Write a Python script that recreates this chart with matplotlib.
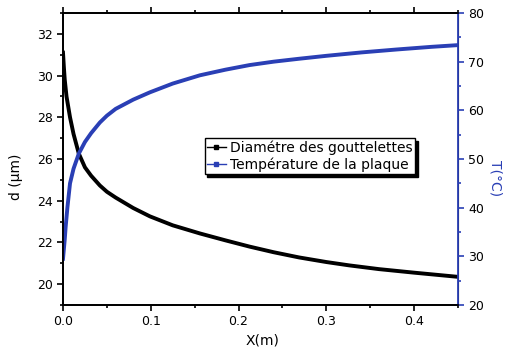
import matplotlib.pyplot as plt
from matplotlib.ticker import MultipleLocator

# diameter of droplets (left axis)
x_d = [0.0, 0.001, 0.002, 0.004, 0.006, 0.008, 0.012, 0.018, 0.025, 0.032, 0.042,
       0.05, 0.06, 0.08, 0.099, 0.125, 0.156, 0.185, 0.2125, 0.24, 0.269, 0.3,
       0.326, 0.36, 0.4, 0.45]
d = [31.1, 30.4, 29.8, 29.0, 28.5, 28.0, 27.2, 26.26, 25.6, 25.2, 24.73,
     24.43, 24.15, 23.65, 23.25, 22.82, 22.43, 22.1, 21.8, 21.53, 21.28, 21.06,
     20.9, 20.72, 20.55, 20.35]

# plate temperature (right axis)
x_t = [0.0, 0.001, 0.002, 0.003, 0.005, 0.008, 0.012, 0.018, 0.025, 0.032, 0.042,
       0.05, 0.06, 0.08, 0.099, 0.125, 0.156, 0.185, 0.2125, 0.24, 0.269, 0.3,
       0.34, 0.38, 0.42, 0.45]
T = [29.5, 31.5, 33.5, 36.0, 40.0, 45.0, 48.0, 51.1, 53.5, 55.3, 57.5,
     58.9, 60.3, 62.2, 63.7, 65.5, 67.2, 68.35, 69.3, 70.0, 70.6, 71.2,
     71.9, 72.5, 73.05, 73.4]

blue = '#2a3fb5'

fig = plt.figure(figsize=(5.07, 3.62), dpi=100)
ax = fig.add_axes([63 / 507, 57 / 362, 395 / 507, 292 / 362])
ax2 = ax.twinx()

l1, = ax.plot(x_d, d, color='black', lw=2.8, label='Diamétre des gouttelettes')
l2, = ax2.plot(x_t, T, color=blue, lw=2.8, label='Température de la plaque')

ax.set_xlim(0, 0.45)
ax.set_ylim(19, 33)
ax2.set_ylim(20, 80)

ax.xaxis.set_major_locator(MultipleLocator(0.1))
ax.xaxis.set_minor_locator(MultipleLocator(0.05))
ax.yaxis.set_major_locator(MultipleLocator(2))
ax.yaxis.set_minor_locator(MultipleLocator(1))
ax2.yaxis.set_major_locator(MultipleLocator(10))
ax2.yaxis.set_minor_locator(MultipleLocator(5))
ax.set_xticks([0.0, 0.1, 0.2, 0.3, 0.4])
ax.set_xticklabels(['0.0', '0.1', '0.2', '0.3', '0.4'])

ax.tick_params(axis='both', which='both', labelsize=9, width=1.2)
ax.tick_params(axis='x', which='major', length=4, direction='out', top=True)
ax.tick_params(axis='x', which='minor', length=2.5, direction='out', top=True)
ax.tick_params(axis='y', which='major', length=4, direction='out')
ax.tick_params(axis='y', which='minor', length=2.5, direction='out')
ax2.tick_params(axis='y', which='major', length=4, direction='out',
                color=blue, labelsize=9, width=1.2)
ax2.tick_params(axis='y', which='minor', length=2.5, direction='out',
                color=blue, width=1.2)

for s in ['left', 'bottom', 'top']:
    ax.spines[s].set_linewidth(1.3)
    ax2.spines[s].set_linewidth(1.3)
ax2.spines['right'].set_color(blue)
ax2.spines['right'].set_linewidth(1.3)

ax.set_xlabel('X(m)', fontsize=10, va='center')
ax.xaxis.set_label_coords(0.504, -0.12)
ax.set_ylabel('d (μm)', fontsize=10, va='center')
ax.yaxis.set_label_coords(-0.12, 0.44)
ax2.set_ylabel('T(°C)', fontsize=10, color=blue, rotation=270, va='center')
ax2.yaxis.set_label_coords(1.094, 0.435)

leg = ax.legend(handles=[l1, l2], loc='center', bbox_to_anchor=(0.625, 0.51),
                fontsize=10, frameon=True, fancybox=False,
                shadow={'color': 'black', 'alpha': 1},
                handlelength=1.3, handletextpad=0.3, borderpad=0.2,
                labelspacing=0.15, borderaxespad=0)
leg.get_frame().set_edgecolor('black')
leg.get_frame().set_alpha(1)
for h in leg.legend_handles:
    h.set_linewidth(1)
    h.set_marker('s')
    h.set_markersize(3)

fig.savefig('out.png', dpi=100)
